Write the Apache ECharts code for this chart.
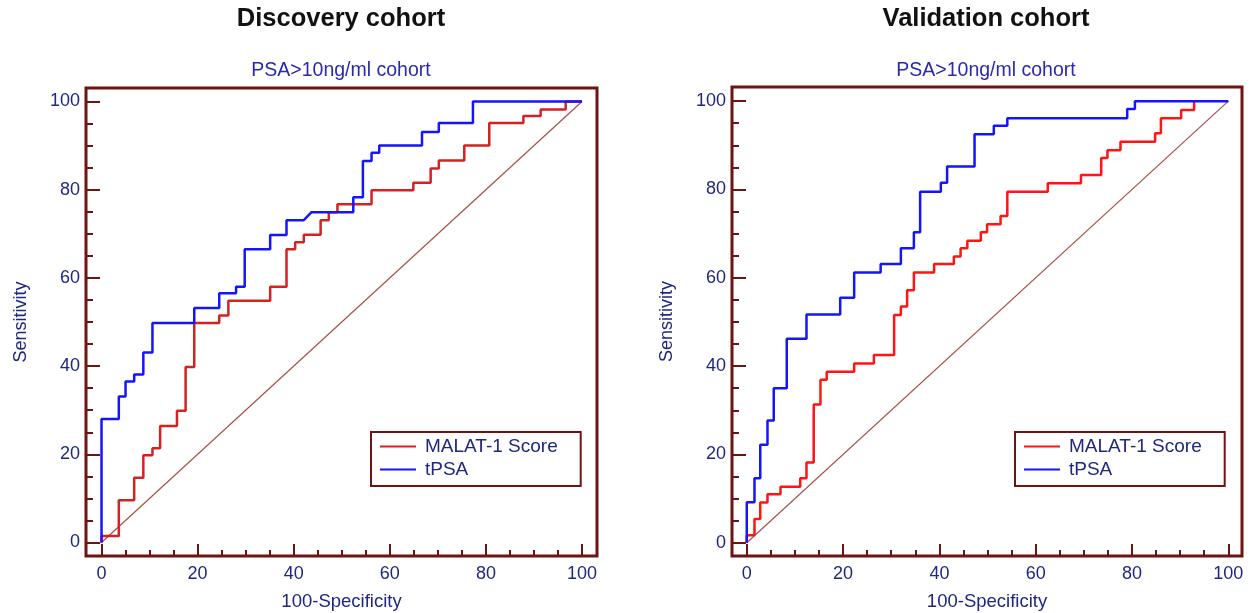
<!DOCTYPE html>
<html>
<head>
<meta charset="utf-8">
<script src="https://cdn.jsdelivr.net/npm/echarts@6/dist/echarts.min.js"></script>
<style>
  html, body { margin: 0; padding: 0; background: #fff; }
  #chart { width: 1251px; height: 613px; }
</style>
</head>
<body>
<div id="chart"></div>
<script>
// ---- Data ----
var majorTicks = [0, 20, 40, 60, 80, 100];
var minorTicks = [5, 10, 15, 25, 30, 35, 45, 50, 55, 65, 70, 75, 85, 90, 95];
var chartTitles = ['Discovery cohort', 'Validation cohort'];
var subTitle = 'PSA>10ng/ml cohort';
var seriesNames = ['MALAT-1 Score', 'tPSA'];
var refLineX = [0, 100];
var refLineY = [0, 100];

// Discovery cohort, MALAT-1 Score (100-Specificity, Sensitivity corner points)
var discMalatX = [0,0,3.6,3.6,6.8,6.8,8.7,8.7,10.6,10.6,12.2,12.2,15.7,15.7,17.5,17.5,19.3,19.3,24.5,24.5,26.4,26.4,35.1,35.1,38.5,38.5,40.3,40.3,42.1,42.1,45.6,45.6,47.3,47.3,49.1,49.1,56.2,56.2,64.9,64.9,68.5,68.5,70.2,70.2,75.5,75.5,80.7,80.7,87.8,87.8,91.4,91.4,96.6,96.6,100];
var discMalatY = [0,1.5,1.5,9.6,9.6,14.7,14.7,19.8,19.8,21.4,21.4,26.4,26.4,29.9,29.9,39.8,39.8,49.8,49.8,51.5,51.5,54.8,54.8,58.0,58.0,66.5,66.5,68.1,68.1,69.8,69.8,73.1,73.1,74.9,74.9,76.7,76.7,79.9,79.9,81.6,81.6,84.8,84.8,86.6,86.6,90.0,90.0,95.1,95.1,96.7,96.7,98.2,98.2,100,100];

// Discovery cohort, tPSA
var discTpsaX = [0,0,3.6,3.6,5.0,5.0,6.8,6.8,8.7,8.7,10.6,10.6,19.3,19.3,24.5,24.5,28.0,28.0,29.8,29.8,35.1,35.1,38.5,38.5,42.1,43.7,52.4,52.4,54.4,54.4,56.2,56.2,57.8,57.8,66.7,66.7,70.2,70.2,77.3,77.3,100];
var discTpsaY = [0,28.0,28.0,33.1,33.1,36.5,36.5,38.1,38.1,43.1,43.1,49.8,49.8,53.2,53.2,56.5,56.5,58.0,58.0,66.5,66.5,69.7,69.7,73.1,73.1,74.9,74.9,78.3,78.3,86.5,86.5,88.4,88.4,90.0,90.0,93.1,93.1,95.1,95.1,100,100];

// Validation cohort, MALAT-1 Score
var valMalatX = [0,0,1.6,1.6,2.8,2.8,4.3,4.3,7.0,7.0,11.1,11.1,12.4,12.4,13.9,13.9,15.3,15.3,16.6,16.6,22.3,22.3,26.4,26.4,30.6,30.6,32.0,32.0,33.3,33.3,34.7,34.7,38.9,38.9,43.0,43.0,44.4,44.4,45.8,45.8,48.6,48.6,49.9,49.9,52.7,52.7,54.1,54.1,62.5,62.5,69.4,69.4,73.6,73.6,74.9,74.9,77.6,77.6,84.8,84.8,86.0,86.0,90.2,90.2,92.9,92.9];
var valMalatY = [0,1.7,1.7,5.4,5.4,9.1,9.1,11.0,11.0,12.7,12.7,14.6,14.6,18.2,18.2,31.3,31.3,36.9,36.9,38.7,38.7,40.6,40.6,42.5,42.5,51.6,51.6,53.5,53.5,57.2,57.2,61.2,61.2,63.1,63.1,64.8,64.8,66.7,66.7,68.4,68.4,70.3,70.3,72.1,72.1,74.0,74.0,79.5,79.5,81.4,81.4,83.3,83.3,87.1,87.1,88.9,88.9,90.8,90.8,92.7,92.7,96.1,96.1,98.0,98.0,100];

// Validation cohort, tPSA
var valTpsaX = [0,0,1.6,1.6,2.8,2.8,4.3,4.3,5.6,5.6,8.3,8.3,12.4,12.4,19.4,19.4,22.3,22.3,27.8,27.8,32.0,32.0,34.7,34.7,36.0,36.0,40.3,40.3,41.6,41.6,47.3,47.3,51.3,51.3,54.1,54.1,79.0,79.0,80.6,80.6,100];
var valTpsaY = [0,9.2,9.2,14.6,14.6,22.2,22.2,27.7,27.7,35.0,35.0,46.2,46.2,51.7,51.7,55.5,55.5,61.2,61.2,63.1,63.1,66.7,66.7,70.3,70.3,79.5,79.5,81.5,81.5,85.2,85.2,92.5,92.5,94.4,94.4,96.1,96.1,98.2,98.2,100,100];

// ---- Styling ----
var FONT = '"Liberation Sans", Arial, sans-serif';
var frameColor = '#6e1212';
var labelColor = '#1f2780';
var subColor = '#2a2aae';
var diagColor = '#a5524a';
var redLeft = '#d42222';
var redRight = '#ff1414';
var blue = '#1414ff';

function zip(xs, ys) {
  return xs.map(function (x, i) { return [x, ys[i]]; });
}

var grids = [
  { left: 86, top: 88, width: 511, height: 468, xr: [-3.23, 103.12], yr: [-3.06, 103.06] },
  { left: 732, top: 87, width: 510, height: 469, xr: [-3.07, 102.84], yr: [-2.99, 103.2] }
];

var gridOpts = [], xAxes = [], yAxes = [], series = [], legends = [];

grids.forEach(function (g, gi) {
  gridOpts.push({
    left: g.left, top: g.top, width: g.width, height: g.height,
    show: true, borderColor: frameColor, borderWidth: 3, backgroundColor: 'transparent',
    containLabel: false, outerBoundsMode: 'none'
  });
  xAxes.push({
    gridIndex: gi, type: 'value', position: 'bottom', min: g.xr[0], max: g.xr[1],
    axisLine: { show: false, onZero: false },
    splitLine: { show: false },
    axisTick: { show: true, inside: true, length: 12, customValues: majorTicks,
      lineStyle: { color: frameColor, width: 2 } },
    axisLabel: { customValues: majorTicks, margin: 9, fontSize: 18, color: labelColor, fontFamily: FONT },
    name: '100-Specificity', nameLocation: 'middle', nameGap: 36,
    nameTextStyle: { fontSize: 18.5, color: labelColor, fontFamily: FONT }
  });
  xAxes.push({
    gridIndex: gi, type: 'value', position: 'bottom', min: g.xr[0], max: g.xr[1],
    axisLine: { show: false, onZero: false },
    splitLine: { show: false },
    axisTick: { show: true, inside: true, length: 6, customValues: minorTicks,
      lineStyle: { color: frameColor, width: 2 } },
    axisLabel: { show: false }
  });
  yAxes.push({
    gridIndex: gi, type: 'value', position: 'left', min: g.yr[0], max: g.yr[1],
    axisLine: { show: false, onZero: false },
    splitLine: { show: false },
    axisTick: { show: true, inside: true, length: 14, customValues: majorTicks,
      lineStyle: { color: frameColor, width: 2 } },
    axisLabel: { customValues: majorTicks, margin: 6, fontSize: 18, color: labelColor, fontFamily: FONT },
    name: 'Sensitivity', nameLocation: 'middle', nameGap: 56,
    nameTextStyle: { fontSize: 18, color: labelColor, fontFamily: FONT }
  });
  yAxes.push({
    gridIndex: gi, type: 'value', position: 'left', min: g.yr[0], max: g.yr[1],
    axisLine: { show: false, onZero: false },
    splitLine: { show: false },
    axisTick: { show: true, inside: true, length: 7, customValues: minorTicks,
      lineStyle: { color: frameColor, width: 2 } },
    axisLabel: { show: false }
  });
});

var curveSets = [
  { malat: zip(discMalatX, discMalatY), tpsa: zip(discTpsaX, discTpsaY), red: redLeft },
  { malat: zip(valMalatX, valMalatY), tpsa: zip(valTpsaX, valTpsaY), red: redRight }
];

curveSets.forEach(function (c, gi) {
  var xi = gi * 2, yi = gi * 2;
  series.push({
    type: 'line', xAxisIndex: xi, yAxisIndex: yi, data: zip(refLineX, refLineY),
    showSymbol: false, symbol: 'none', silent: true, z: 1,
    lineStyle: { color: diagColor, width: 1.2 }
  });
  series.push({
    name: seriesNames[0], type: 'line', xAxisIndex: xi, yAxisIndex: yi, data: c.malat,
    showSymbol: false, symbol: 'none', z: 2, color: c.red,
    lineStyle: { color: c.red, width: 2.5 }
  });
  series.push({
    name: seriesNames[1], type: 'line', xAxisIndex: xi, yAxisIndex: yi, data: c.tpsa,
    showSymbol: false, symbol: 'none', z: 3, color: blue,
    lineStyle: { color: blue, width: 2.5 }
  });
  legends.push({
    data: [
      { name: seriesNames[0], itemStyle: { color: c.red } },
      { name: seriesNames[1], itemStyle: { color: blue } }
    ],
    orient: 'vertical',
    left: gi === 0 ? 371 : 1015, top: 432,
    padding: [5, 23, 7, 9],
    itemGap: 4, itemWidth: 36, itemHeight: 2, icon: 'rect',
    borderColor: frameColor, borderWidth: 2, borderRadius: 0,
    selectedMode: false,
    textStyle: { fontSize: 19, lineHeight: 19, color: labelColor, fontFamily: FONT, padding: [0, 0, 0, 4] }
  });
});

var centers = [341, 986];
var graphics = [];
centers.forEach(function (cx, i) {
  graphics.push({
    type: 'text', x: cx, y: 19, silent: true,
    style: { text: chartTitles[i], font: 'bold 25.5px ' + FONT, fill: '#111111',
      textAlign: 'center', textVerticalAlign: 'middle' }
  });
  graphics.push({
    type: 'text', x: cx, y: 71, silent: true,
    style: { text: subTitle, font: '19.5px ' + FONT, fill: subColor,
      textAlign: 'center', textVerticalAlign: 'middle' }
  });
});

var chart = echarts.init(document.getElementById('chart'), null, { renderer: 'canvas' });
chart.setOption({
  animation: false,
  backgroundColor: '#ffffff',
  grid: gridOpts,
  xAxis: xAxes,
  yAxis: yAxes,
  legend: legends,
  graphic: graphics,
  series: series
});
</script>
</body>
</html>
